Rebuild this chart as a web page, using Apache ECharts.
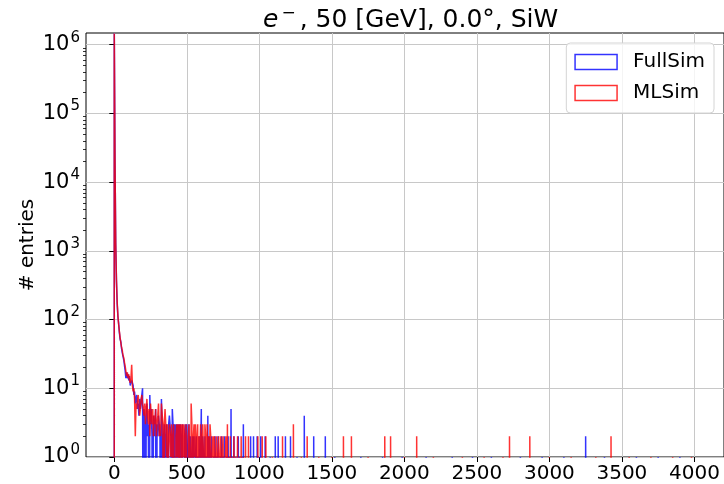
<!DOCTYPE html>
<html><head><meta charset="utf-8">
<script src="https://cdn.jsdelivr.net/npm/echarts@6/dist/echarts.min.js"></script>
<style>html,body{margin:0;padding:0;background:#fff}#c{width:724px;height:484px}</style>
</head><body><div id="c"></div>
<script>
// ---------------- data ----------------
const binWidth = 5; // histogram bin width (x units); dense bins start at 0
const fullSimDense = [
  1450000, 22000, 1200, 360, 170, 110, 88, 65, 52, 48,
  38, 33, 32, 26, 25, 18, 14, 17, 14, 16,
  13, 15, 11, 12, 13, 12, 11, 8, 9, 6,
  7, 8, 5, 6, 4, 7, 5, 6, 8, 10,
  0, 5, 3, 0, 4, 6, 2, 3, 0, 8,
  3, 5, 2, 0, 4, 3, 2, 5, 0, 3,
  2, 4, 3, 2, 0, 7, 3, 0, 2, 3,
  0, 2, 3, 1, 0, 3, 4, 4, 2, 0,
  5, 3, 0, 3, 2, 3, 0, 3, 1, 3,
  0, 3, 2, 0, 3, 3, 0, 2, 3, 0,
  3, 1, 0, 3, 0, 2, 0, 1, 2, 0,
  2, 0, 1, 2, 0, 1, 0, 2, 0, 1,
  5, 0, 2, 1, 0, 2, 0, 1, 0, 4,
  0, 2, 0, 1, 2, 0, 0, 1, 0, 2,
  0, 1, 0, 2, 0, 0, 1, 0, 2, 0,
  1, 0, 2, 0, 0, 1, 0, 2, 0, 1,
  0, 5, 0, 1, 0, 2, 0, 0, 1, 0,
  0, 2, 0, 1, 0, 0, 1, 0, 3, 0
];
const mlSimDense = [
  1450000, 22000, 1300, 380, 180, 115, 85, 68, 55, 46,
  40, 36, 30, 28, 24, 21, 20, 15, 17, 14,
  16, 13, 12, 14, 22, 11, 9, 10, 7, 2,
  6, 5, 7, 8, 6, 4, 5, 7, 8, 6,
  5, 4, 6, 3, 5, 7, 4, 3, 5, 2,
  6, 4, 3, 5, 2, 4, 3, 5, 2, 3,
  4, 6, 2, 3, 2, 6, 6, 3, 0, 3,
  5, 3, 1, 3, 0, 2, 3, 3, 1, 3,
  2, 0, 3, 3, 0, 2, 3, 1, 3, 0,
  3, 2, 3, 0, 3, 1, 3, 2, 0, 3,
  3, 0, 2, 3, 1, 0, 6, 3, 0, 2,
  3, 1, 3, 0, 2, 3, 0, 2, 1, 3,
  0, 2, 3, 1, 0, 3, 2, 0, 3, 1,
  2, 0, 3, 2, 0, 1, 2, 0, 2, 1,
  0, 2, 1, 0, 2, 0, 1, 2, 0, 1,
  2, 0, 0, 1, 2, 0, 3, 0, 1, 0,
  2, 0, 1, 0, 0, 2, 0, 1, 0, 0,
  2, 0, 0, 1, 0, 2, 0, 0, 1, 0
];
// sparse tail bins: [bin start, count]
const fullSimTail = [
  [940, 2], [960, 2], [985, 2], [1000, 1], [1010, 2], [1040, 2], [1075, 1],
  [1110, 2], [1130, 2], [1180, 2], [1215, 2], [1260, 1], [1310, 4], [1375, 2],
  [1455, 2], [1520, 1], [1700, 1], [1850, 1], [1985, 1], [2150, 1], [2330, 1],
  [2470, 1], [2600, 1], [2800, 1], [2950, 1], [3100, 1], [3250, 2], [3380, 1],
  [3600, 1], [3750, 1], [3900, 1]
];
const mlSimTail = [
  [905, 2], [925, 2], [990, 2], [1020, 2], [1045, 2], [1090, 1], [1160, 2],
  [1235, 3], [1290, 1], [1330, 2], [1410, 1], [1500, 1], [1580, 2], [1635, 2],
  [1750, 1], [1865, 2], [1905, 2], [2000, 1], [2085, 2], [2200, 1], [2400, 1],
  [2550, 1], [2680, 1], [2725, 2], [2865, 2], [3000, 1], [3150, 1], [3320, 1],
  [3425, 2], [3550, 1], [3700, 1], [3850, 1], [3980, 1]
];
const seriesNames = ['FullSim', 'MLSim'];
const xTicks = [0, 500, 1000, 1500, 2000, 2500, 3000, 3500, 4000];
const yTicks = [1, 10, 100, 1000, 10000, 100000, 1000000];
const yMinorTicks = [];
for (let e = 0; e < 6; e++) for (let m = 2; m <= 9; m++) yMinorTicks.push(m * Math.pow(10, e));

// ------------- helpers -------------
const FONT = 'DejaVu Sans';
const FLOOR = 1e-3; // empty bins fall below the log axis and are clipped
function stepPoints(dense, tail) {
  const bins = [];
  dense.forEach((c, i) => { if (c > 0) bins.push([i * binWidth, c]); });
  tail.forEach(b => bins.push([b[0], b[1]]));
  bins.sort((a, b) => a[0] - b[0]);
  const pts = [];
  for (let k = 0; k < bins.length; k++) {
    const x0 = bins[k][0], c = bins[k][1], x1 = x0 + binWidth;
    const prev = bins[k - 1], next = bins[k + 1];
    if (!prev || prev[0] + binWidth !== x0) pts.push([x0, FLOOR]);
    pts.push([x0, c]);
    pts.push([x1, c]);
    if (!next || next[0] !== x1) pts.push([x1, FLOOR]);
  }
  return pts;
}
const BLUE = 'rgba(0,0,255,0.8)';
const RED = 'rgba(255,0,0,0.8)';

const chart = echarts.init(document.getElementById('c'), null, {renderer: 'canvas'});
chart.setOption({
  animation: false,
  backgroundColor: '#fff',
  textStyle: {fontFamily: FONT},
  title: {
    text: '{i|e}{sup|\u2212}{n|, 50 [GeV], 0.0°, SiW}',
    left: 258, top: 0,
    textStyle: {
      fontFamily: FONT, fontWeight: 'normal',
      rich: {
        i: {fontSize: 25, fontStyle: 'italic', fontWeight: 'normal', fontFamily: FONT, color: '#000'},
        sup: {fontSize: 17, fontWeight: 'normal', fontFamily: FONT, color: '#000', padding: [0, 4, 14, 3]},
        n: {fontSize: 25, fontWeight: 'normal', fontFamily: FONT, color: '#000'}
      }
    }
  },
  legend: {
    orient: 'vertical', right: 10, top: 43, align: 'left',
    itemWidth: 42, itemHeight: 15, itemGap: 11,
    padding: [9, 9, 10, 8],
    backgroundColor: 'rgba(255,255,255,0.8)', borderColor: '#d4d4d4', borderWidth: 1, borderRadius: 4,
    textStyle: {fontSize: 20, fontFamily: FONT, color: '#000', padding: [0, 0, 0, 11], lineHeight: 20},
    data: [
      {name: 'FullSim', icon: 'rect', itemStyle: {color: 'rgba(255,255,255,0)', borderColor: BLUE, borderWidth: 1.5}},
      {name: 'MLSim', icon: 'rect', itemStyle: {color: 'rgba(255,255,255,0)', borderColor: RED, borderWidth: 1.5}}
    ]
  },
  grid: {left: 86, right: -2, top: 33, bottom: 27, show: true, borderColor: '#000', borderWidth: 1, backgroundColor: 'transparent', containLabel: false},
  xAxis: {
    type: 'value', min: -195, max: 4204,
    axisLine: {show: false},
    axisTick: {show: true, length: 5, lineStyle: {color: '#000', width: 1}, customValues: xTicks},
    axisLabel: {customValues: xTicks, fontSize: 20, color: '#000', margin: 7, fontFamily: FONT,
      formatter: v => String(v)},
    splitLine: {show: true, lineStyle: {color: '#c8c8c8', width: 1}}
  },
  yAxis: [{
    type: 'log', logBase: 10, min: 1, max: 1480000,
    name: '# entries', nameLocation: 'middle', nameGap: 48, nameMoveOverlap: false,
    nameTextStyle: {fontSize: 20, color: '#000', fontFamily: FONT},
    axisLine: {show: false},
    axisTick: {show: true, length: 5, lineStyle: {color: '#000', width: 1}, customValues: yTicks},
    axisLabel: {
      customValues: yTicks, margin: 6, color: '#000',
      formatter: function (v) {
        const e = Math.round(Math.log10(v));
        if (Math.abs(Math.log10(v) - e) > 1e-6) return '';
        return '{b|10}{s|' + e + '}';
      },
      rich: {
        b: {fontSize: 21, fontFamily: FONT, color: '#000'},
        s: {fontSize: 15, fontFamily: FONT, color: '#000', padding: [0, 0, 14, 1]}
      }
    },
    splitLine: {show: true, lineStyle: {color: '#c8c8c8', width: 1}}
  }, {
    type: 'log', logBase: 10, min: 1, max: 1480000, position: 'left',
    axisLine: {show: false},
    axisTick: {show: true, length: 3, lineStyle: {color: '#000', width: 0.8}, customValues: yMinorTicks},
    axisLabel: {show: false},
    splitLine: {show: false}
  }],
  series: [
    {name: seriesNames[0], type: 'line', data: stepPoints(fullSimDense, fullSimTail),
     symbol: 'none', showSymbol: false, clip: true, silent: true,
     lineStyle: {color: BLUE, width: 1.5}, itemStyle: {color: BLUE}, z: 2},
    {name: seriesNames[1], type: 'line', data: stepPoints(mlSimDense, mlSimTail),
     symbol: 'none', showSymbol: false, clip: true, silent: true,
     lineStyle: {color: RED, width: 1.5}, itemStyle: {color: RED}, z: 3}
  ]
});
</script></body></html>
